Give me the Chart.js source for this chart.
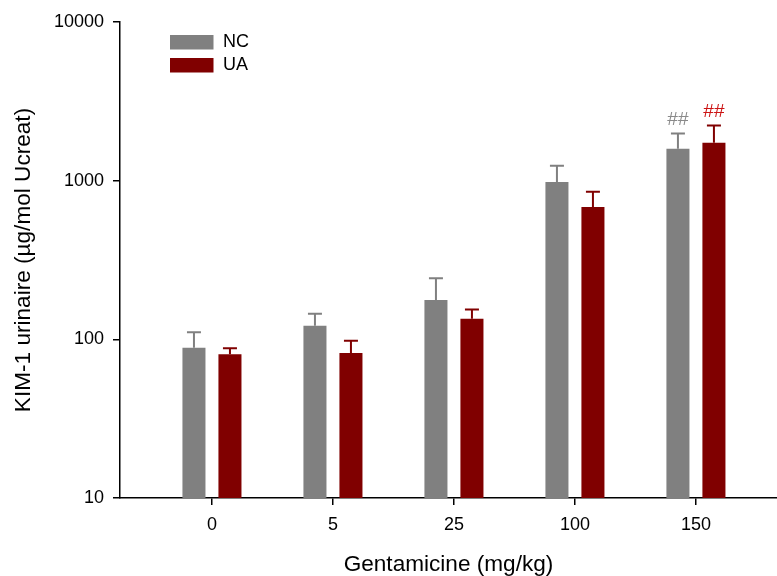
<!DOCTYPE html>
<html>
<head>
<meta charset="utf-8">
<script src="https://cdn.jsdelivr.net/npm/chart.js@4/dist/chart.umd.min.js"></script>
<style>
  html, body { margin: 0; padding: 0; background: #fff; }
  #wrap { width: 777px; height: 576px; position: relative; }
</style>
</head>
<body>
<div id="wrap"><canvas id="chart"></canvas></div>
<script>
// doses of gentamicine (mg/kg)
const doses = ['0', '5', '25', '100', '150'];
const ncMean = [88.5, 122, 177, 980, 1590];
const ncErr = [111, 145, 243, 1240, 1985];
const uaMean = [80.5, 82, 135, 682, 1735];
const uaErr = [88, 98, 154, 852, 2230];
const ncSig = ['', '', '', '', '##'];
const uaSig = ['', '', '', '', '##'];
const yTicks = [10, 100, 1000, 10000];

const FONT = '"Liberation Sans", Arial, sans-serif';
const GRAY = '#808080';
const RED = '#800000';

const toPoints = (arr) => arr.map((v, i) => ({ x: i, y: v }));

// upper error bars + significance marks
const errorBars = {
  id: 'errorBars',
  afterDatasetsDraw(chart) {
    const { ctx, scales: { y } } = chart;
    chart.data.datasets.forEach((ds, di) => {
      const meta = chart.getDatasetMeta(di);
      meta.data.forEach((bar, i) => {
        const top = y.getPixelForValue(ds.errTop[i]);
        ctx.save();
        ctx.strokeStyle = ds.backgroundColor;
        ctx.lineWidth = 2;
        ctx.beginPath();
        ctx.moveTo(bar.x, bar.y);
        ctx.lineTo(bar.x, top);
        ctx.moveTo(bar.x - 7, top);
        ctx.lineTo(bar.x + 7, top);
        ctx.stroke();
        if (ds.sig[i]) {
          ctx.fillStyle = ds.sigColor;
          ctx.font = '19px ' + FONT;
          ctx.textAlign = 'center';
          ctx.textBaseline = 'alphabetic';
          ctx.fillText(ds.sig[i], bar.x, top - 8);
        }
        ctx.restore();
      });
    });
  }
};

// legend inside the plot, top left
const innerLegend = {
  id: 'innerLegend',
  afterDraw(chart) {
    const { ctx, chartArea } = chart;
    const x0 = chartArea.left + 50;
    let y0 = chartArea.top + 13;
    chart.data.datasets.forEach((ds) => {
      ctx.save();
      ctx.fillStyle = ds.backgroundColor;
      ctx.fillRect(x0, y0, 43.5, 14.5);
      ctx.fillStyle = '#000';
      ctx.font = '18px ' + FONT;
      ctx.textBaseline = 'middle';
      ctx.fillText(ds.label, x0 + 53, y0 + 7.5);
      ctx.restore();
      y0 += 23;
    });
  }
};

new Chart(document.getElementById('chart'), {
  type: 'bar',
  data: {
    datasets: [
      { label: 'NC', data: toPoints(ncMean), errTop: ncErr, sig: ncSig, sigColor: '#8a8a8a', backgroundColor: GRAY },
      { label: 'UA', data: toPoints(uaMean), errTop: uaErr, sig: uaSig, sigColor: '#cc1414', backgroundColor: RED }
    ]
  },
  options: {
    responsive: true,
    maintainAspectRatio: false,
    animation: false,
    layout: { padding: { top: 22, right: 0, bottom: 0, left: 0 } },
    categoryPercentage: 0.595,
    barPercentage: 0.64,
    plugins: {
      legend: { display: false },
      tooltip: { enabled: false }
    },
    scales: {
      x: {
        type: 'linear',
        min: -0.76,
        max: 4.67,
        offset: false,
        afterBuildTicks: (s) => { s.ticks = doses.map((d, i) => ({ value: i })); },
        afterFit: (s) => { s.height = 78; },
        ticks: {
          callback: (v) => doses[v],
          color: '#000',
          font: { family: FONT, size: 18 },
          padding: 9,
          maxRotation: 0
        },
        grid: { display: true, offset: false, drawOnChartArea: false, drawTicks: true, tickLength: 7, color: '#000', lineWidth: 1.5 },
        border: { display: true, color: '#000', width: 1.5 },
        title: {
          display: true,
          text: 'Gentamicine (mg/kg)',
          color: '#000',
          font: { family: FONT, size: 22.6, lineHeight: 1 },
          padding: { top: 0, bottom: 0 }
        }
      },
      y: {
        type: 'logarithmic',
        min: 10,
        max: 10000,
        afterBuildTicks: (s) => { s.ticks = yTicks.map((v) => ({ value: v, major: true })); },
        afterFit: (s) => { s.width = 120; },
        ticks: {
          callback: (v) => String(v),
          color: '#000',
          font: { family: FONT, size: 18 },
          padding: 9
        },
        grid: { display: true, drawOnChartArea: false, drawTicks: true, tickLength: 7, color: '#000', lineWidth: 1.5 },
        border: { display: true, color: '#000', width: 1.5 },
        title: {
          display: true,
          text: 'KIM-1 urinaire (µg/mol Ucreat)',
          color: '#000',
          font: { family: FONT, size: 22.6, lineHeight: 1 },
          padding: { top: 12, bottom: 0 }
        }
      }
    }
  },
  plugins: [errorBars, innerLegend]
});
</script>
</body>
</html>
